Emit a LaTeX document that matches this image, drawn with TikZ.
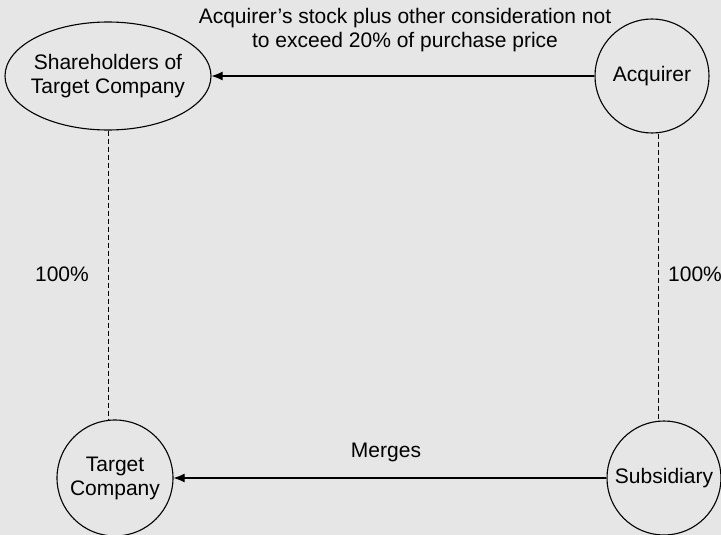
\documentclass[tikz,border=0pt]{standalone}
\usepackage{fontspec}
\setmainfont{Liberation Sans}
\usetikzlibrary{arrows.meta}
\usetikzlibrary{shapes.geometric}
\usetikzlibrary{calc}

\definecolor{paper}{RGB}{230,230,230}

\tikzset{
    party/.style={circle, draw=black, line width=1.1pt, fill=paper, minimum size=114pt, inner sep=0pt, align=center},
    flow/.style={line width=1.1pt, -{Latex[length=11pt,width=9pt]}},
    owns/.style={line width=0.9pt, dash pattern=on 5pt off 3pt}
}

\begin{document}
\begin{tikzpicture}[x=1pt, y=-1pt, font=\fontsize{21}{24}\selectfont]
    \fill[paper] (0,0) rectangle (721,535);
    \useasboundingbox (0,0) rectangle (721,535);

    \node (sh) [ellipse, draw=black, line width=1.1pt, fill=paper, minimum width=206pt, minimum height=108pt, inner xsep=-12pt, inner ysep=0pt, align=center] at (108,76) {Shareholders of\\Target Company};
    \node (acq) [party] at (652,76) {Acquirer};
    \node (tgt) [party, minimum size=116pt] at (115,478) {Target\\Company};
    \node (sub) [party] at (664,478) {Subsidiary};

    % payment to the target's owners
    \draw[flow] (acq) -- (sh);
    \node (pay) [align=center] at (405,30) {Acquirer’s stock plus other consideration not\\to exceed 20\% of purchase price};

    % merger
    \draw[flow] (sub) -- (tgt);
    \node (mrg) at (386,452) {Merges};

    % ownership
    \draw[owns] (sh.south) -- (sh.south |- tgt.north);
    \draw[owns] ([xshift=6pt]acq.south) -- ([xshift=6pt]acq.south |- sub.north);
    \node (lpct) at (62,274) {100\%};
    \node (rpct) [inner sep=0pt] at (695,274) {100\%};
\end{tikzpicture}
\end{document}
